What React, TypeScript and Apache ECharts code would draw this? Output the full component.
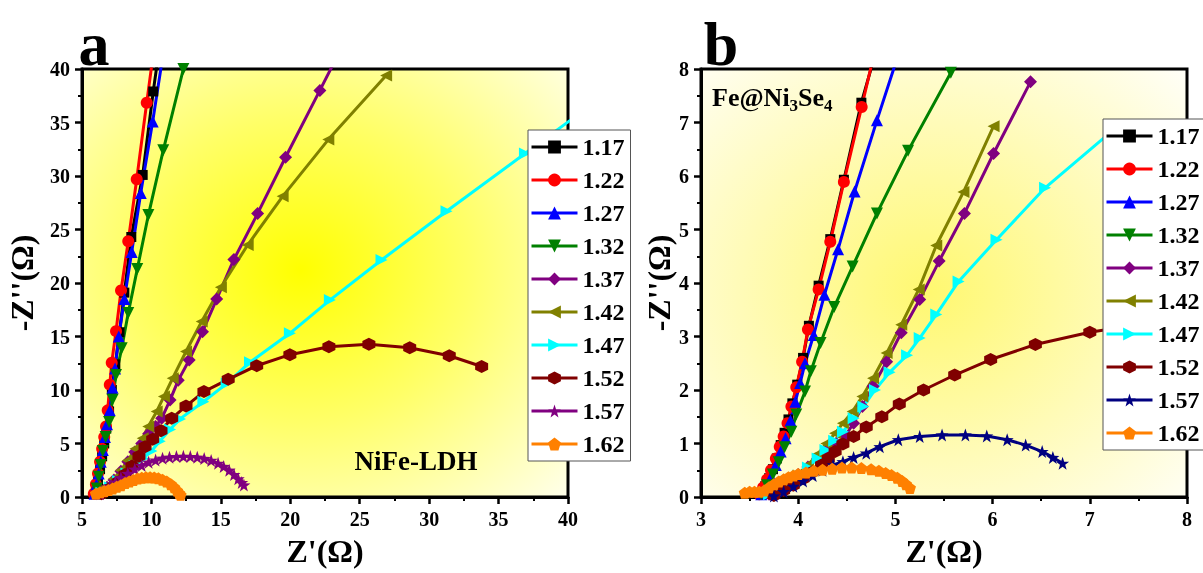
import React, { useEffect, useRef } from "react";
import * as echarts from "echarts";

const FONT = '"Liberation Serif", "Times New Roman", serif';

const names = ["1.17", "1.22", "1.27", "1.32", "1.37", "1.42", "1.47", "1.52", "1.57", "1.62"];
const colorsA = ["#000000", "#ff0000", "#0000ff", "#008000", "#800080", "#808000", "#00ffff", "#800000", "#800080", "#ff8000"];
const colorsB = ["#000000", "#ff0000", "#0000ff", "#008000", "#800080", "#808000", "#00ffff", "#800000", "#000080", "#ff8000"];

const SYM_HEX = "path://M0,-10L8.66,-5L8.66,5L0,10L-8.66,5L-8.66,-5Z";
const SYM_STAR = "path://M0,-10L2.35,-3.24L9.51,-3.09L3.8,1.24L5.88,8.09L0,4L-5.88,8.09L-3.8,1.24L-9.51,-3.09L-2.35,-3.24Z";
const SYM_PENT = "path://M0,-10L9.51,-3.09L5.88,8.09L-5.88,8.09L-9.51,-3.09Z";
const symbols = ["rect", "circle", "triangle", "triangle", "diamond", "triangle", "triangle", SYM_HEX, SYM_STAR, SYM_PENT];
const rotations = [0, 0, 0, 180, 0, 90, -90, 0, 0, 0];
const sizes = [10, 12, 12, 12, 13, 12, 12, 13, 13, 12];

// Panel a: NiFe-LDH
const a117 = [[6.0,0.5],[6.15,1.5],[6.3,2.6],[6.45,3.8],[6.6,5.0],[6.75,6.4],[6.95,8.0],[7.15,10.0],[7.4,12.4],[7.7,15.4],[8.05,19.1],[8.55,24.3],[9.37,30.1],[10.13,37.9],[10.9,45]];
const a122 = [[5.85,0.3],[6.0,1.2],[6.15,2.2],[6.3,3.3],[6.45,4.5],[6.6,5.6],[6.73,6.6],[6.85,8.1],[7.0,10.5],[7.14,12.55],[7.45,15.5],[7.81,19.3],[8.33,23.9],[8.94,29.7],[9.66,36.85],[10.4,44]];
const a127 = [[5.9,0.3],[6.05,1.2],[6.2,2.2],[6.35,3.3],[6.5,4.4],[6.65,5.6],[6.8,6.8],[7.0,8.1],[7.2,10.2],[7.38,12.0],[7.65,15.0],[8.05,18.5],[8.58,22.9],[9.23,28.4],[10.09,35.1],[10.7,40.2]];
const a132 = [[6.06,0.8],[6.2,1.9],[6.35,3.0],[6.5,4.3],[6.7,5.6],[6.95,7.0],[7.2,9.1],[7.45,11.4],[7.86,13.9],[8.33,17.2],[8.98,21.3],[9.78,26.35],[10.85,32.4],[12.3,40]];
const a137 = [[6.3,0.4],[6.8,0.9],[7.3,1.6],[7.8,2.4],[8.3,3.3],[8.8,4.2],[9.3,5.0],[9.8,5.9],[10.3,6.6],[10.74,7.35],[11.34,9.06],[11.93,10.9],[12.72,12.8],[13.68,15.45],[14.7,18.5],[15.94,22.2],[17.65,26.5],[19.66,31.75],[22.13,38.0],[23.5,41.5]];
const a142 = [[6.3,0.4],[6.8,1.0],[7.3,1.7],[7.8,2.5],[8.3,3.4],[8.85,4.5],[9.37,5.5],[9.77,6.6],[10.38,8.0],[10.9,9.4],[11.53,11.1],[12.49,13.6],[13.62,16.4],[15.0,19.6],[16.93,23.55],[19.45,28.1],[22.74,33.4],[26.9,39.4]];
const a147 = [[6.4,0.4],[7.0,0.9],[7.6,1.5],[8.2,2.2],[8.8,2.9],[9.4,3.6],[10.0,4.3],[10.6,5.2],[11.34,6.3],[12.06,7.3],[13.74,8.9],[15.42,10.6],[17.1,12.6],[19.97,15.3],[22.85,18.4],[26.57,22.15],[31.25,26.7],[36.9,32.1],[41,36]];
const a152 = [[6.4,0.3],[7.0,0.8],[7.6,1.4],[8.1,2.1],[8.6,2.9],[9.1,3.8],[9.54,4.7],[10.09,5.4],[10.69,6.2],[11.46,7.35],[12.49,8.5],[13.78,9.85],[15.53,11.0],[17.58,12.27],[19.97,13.3],[22.78,14.05],[25.66,14.27],[28.6,13.95],[31.45,13.2],[33.78,12.2]];
const a157 = [[6.3,0.3],[6.6,0.6],[7.0,1.0],[7.4,1.4],[7.8,1.8],[8.3,2.2],[8.8,2.6],[9.3,2.95],[9.8,3.25],[10.3,3.45],[10.8,3.62],[11.3,3.72],[11.8,3.78],[12.3,3.8],[12.8,3.78],[13.3,3.72],[13.8,3.6],[14.3,3.42],[14.8,3.15],[15.2,2.85],[15.6,2.5],[15.95,2.1],[16.25,1.7],[16.5,1.35],[16.66,1.12]];
const a162 = [[6.0,0.3],[6.3,0.45],[6.6,0.55],[6.9,0.65],[7.2,0.8],[7.5,0.95],[7.8,1.1],[8.1,1.3],[8.4,1.45],[8.7,1.6],[9.0,1.72],[9.3,1.8],[9.6,1.85],[9.9,1.85],[10.2,1.82],[10.5,1.75],[10.8,1.62],[11.1,1.45],[11.4,1.2],[11.65,0.9],[11.85,0.6],[12.0,0.35],[12.1,0.2]];

// Panel b: Fe@Ni3Se4
const b117 = [[3.62,0.08],[3.66,0.2],[3.7,0.35],[3.74,0.52],[3.78,0.72],[3.82,0.97],[3.86,1.2],[3.9,1.45],[3.94,1.75],[3.99,2.1],[4.05,2.6],[4.11,3.2],[4.21,3.95],[4.33,4.82],[4.47,5.93],[4.65,7.37],[4.78,8.2]];
const b122 = [[3.6,0.05],[3.64,0.18],[3.68,0.33],[3.72,0.5],[3.77,0.72],[3.81,0.94],[3.85,1.13],[3.89,1.38],[3.93,1.69],[3.98,2.05],[4.04,2.53],[4.1,3.13],[4.21,3.88],[4.33,4.77],[4.47,5.89],[4.653,7.29],[4.77,8.2]];
const b127 = [[3.62,0.05],[3.67,0.2],[3.72,0.38],[3.77,0.6],[3.82,0.85],[3.87,1.1],[3.92,1.43],[3.97,1.78],[4.02,2.13],[4.07,2.5],[4.16,3.03],[4.27,3.78],[4.41,4.63],[4.58,5.71],[4.81,7.04],[5.0,8.1]];
const b132 = [[3.62,0.05],[3.68,0.22],[3.74,0.42],[3.8,0.65],[3.86,0.93],[3.93,1.22],[3.98,1.54],[4.07,1.97],[4.13,2.35],[4.23,2.88],[4.37,3.55],[4.56,4.31],[4.81,5.3],[5.13,6.47],[5.57,7.93]];
const b137 = [[3.7,0.05],[3.8,0.15],[3.9,0.28],[4.0,0.42],[4.1,0.56],[4.2,0.72],[4.3,0.88],[4.39,1.0],[4.48,1.13],[4.57,1.38],[4.66,1.69],[4.77,2.07],[4.91,2.53],[5.06,3.07],[5.25,3.69],[5.45,4.41],[5.71,5.3],[6.01,6.42],[6.39,7.76]];
const b142 = [[3.7,0.05],[3.8,0.15],[3.9,0.28],[4.0,0.43],[4.1,0.6],[4.2,0.8],[4.29,1.0],[4.38,1.19],[4.46,1.38],[4.56,1.6],[4.66,1.88],[4.77,2.22],[4.91,2.69],[5.06,3.22],[5.24,3.88],[5.42,4.7],[5.7,5.7],[6.01,6.93]];
const b147 = [[3.7,0.05],[3.8,0.15],[3.9,0.27],[4.0,0.4],[4.1,0.55],[4.2,0.72],[4.28,0.88],[4.37,1.05],[4.46,1.22],[4.57,1.47],[4.67,1.69],[4.79,2.0],[4.94,2.33],[5.12,2.65],[5.25,2.97],[5.42,3.41],[5.65,4.03],[6.04,4.81],[6.54,5.78],[7.3,6.95]];
const b152 = [[3.75,0.03],[3.85,0.12],[3.95,0.22],[4.05,0.34],[4.15,0.47],[4.24,0.6],[4.31,0.72],[4.38,0.85],[4.46,0.99],[4.57,1.13],[4.7,1.31],[4.86,1.5],[5.04,1.74],[5.29,2.0],[5.61,2.28],[5.98,2.57],[6.44,2.85],[7.0,3.08],[7.6,3.25]];
const b157 = [[3.75,0.02],[3.85,0.1],[3.95,0.2],[4.05,0.3],[4.15,0.4],[4.25,0.5],[4.36,0.6],[4.46,0.66],[4.57,0.74],[4.7,0.82],[4.84,0.94],[5.03,1.07],[5.25,1.13],[5.48,1.16],[5.72,1.16],[5.94,1.14],[6.15,1.07],[6.34,0.97],[6.51,0.85],[6.62,0.74],[6.72,0.63]];
const b162 = [[3.45,0.08],[3.5,0.1],[3.55,0.1],[3.6,0.1],[3.65,0.12],[3.7,0.18],[3.75,0.24],[3.8,0.29],[3.85,0.33],[3.9,0.37],[3.95,0.4],[4.0,0.43],[4.08,0.46],[4.16,0.49],[4.25,0.51],[4.35,0.53],[4.45,0.55],[4.55,0.55],[4.65,0.54],[4.75,0.52],[4.83,0.49],[4.9,0.45],[4.96,0.41],[5.02,0.36],[5.07,0.3],[5.11,0.24],[5.15,0.17]];

const dataA = [a117, a122, a127, a132, a137, a142, a147, a152, a157, a162];
const dataB = [b117, b122, b127, b132, b137, b142, b147, b152, b157, b162];

const xTicksA = { min: 5, max: 40, interval: 5 };
const yTicksA = { min: 0, max: 40, interval: 5 };
const xTicksB = { min: 3, max: 8, interval: 1 };
const yTicksB = { min: 0, max: 8, interval: 1 };

function makeSeries(data: number[][][], colors: string[], gi: number) {
  return data.map((d, i) => ({
    type: "line",
    name: names[i],
    data: d,
    xAxisIndex: gi,
    yAxisIndex: gi,
    symbol: symbols[i],
    symbolSize: sizes[i],
    symbolRotate: rotations[i],
    showAllSymbol: true,
    clip: true,
    lineStyle: { color: colors[i], width: 3 },
    itemStyle: { color: colors[i] },
    emphasis: { disabled: true },
  }));
}

function axisCommon() {
  return {
    axisLine: { show: true, onZero: false, lineStyle: { color: "#000", width: 3 } },
    axisTick: { show: true, inside: false, length: 7, lineStyle: { color: "#000", width: 2.5 } },
    minorTick: { show: true, splitNumber: 2, length: 4, lineStyle: { color: "#000", width: 2 } },
    splitLine: { show: false },
    axisLabel: { color: "#000", fontFamily: FONT, fontWeight: "bold", fontSize: 20, margin: 12 },
    nameTextStyle: { color: "#000", fontFamily: FONT, fontWeight: "bold", fontSize: 32 },
  };
}

function legendFor(colors: string[], left: number, top: number) {
  return {
    orient: "vertical",
    left,
    top,
    selectedMode: false,
    itemWidth: 46,
    itemHeight: 16,
    itemGap: 9,
    padding: [5, 6, 5, 2],
    backgroundColor: "#ffffff",
    borderColor: "#555",
    borderWidth: 1,
    textStyle: { color: "#000", fontFamily: FONT, fontWeight: "bold", fontSize: 24, lineHeight: 24 },
    data: names.map((n, i) => ({
      name: n,
      itemStyle: { color: colors[i] },
      lineStyle: { color: colors[i], width: 3 },
    })),
  };
}

export default function App() {
  const ref = useRef<HTMLDivElement>(null);
  useEffect(() => {
    if (!ref.current) return;
    const chart = echarts.init(ref.current, undefined, { renderer: "svg" });
    const bgA = new echarts.graphic.RadialGradient(0.45, 0.47, 0.78, [
      { offset: 0, color: "#ffff00" },
      { offset: 0.45, color: "#ffff66" },
      { offset: 1, color: "#fffff0" },
    ]);
    const bgB = new echarts.graphic.RadialGradient(0.47, 0.52, 0.78, [
      { offset: 0, color: "#fff870" },
      { offset: 0.5, color: "#fffbb8" },
      { offset: 1, color: "#ffffff" },
    ]);
    chart.setOption({
      animation: false,
      grid: [
        { left: 82, top: 69, width: 486, height: 428, show: true, backgroundColor: bgA, borderColor: "#000", borderWidth: 3, containLabel: false },
        { left: 701, top: 69, width: 486, height: 428, show: true, backgroundColor: bgB, borderColor: "#000", borderWidth: 3, containLabel: false },
      ],
      xAxis: [
        { type: "value", gridIndex: 0, ...xTicksA, name: "Z'(Ω)", nameLocation: "middle", nameGap: 38, ...axisCommon() },
        { type: "value", gridIndex: 1, ...xTicksB, name: "Z'(Ω)", nameLocation: "middle", nameGap: 38, ...axisCommon() },
      ],
      yAxis: [
        { type: "value", gridIndex: 0, ...yTicksA, name: "-Z''(Ω)", nameLocation: "middle", nameGap: 44, ...axisCommon() },
        { type: "value", gridIndex: 1, ...yTicksB, name: "-Z''(Ω)", nameLocation: "middle", nameGap: 24, ...axisCommon() },
      ],
      legend: [legendFor(colorsA, 528, 130), legendFor(colorsB, 1103, 119)],
      series: [...makeSeries(dataA, colorsA, 0), ...makeSeries(dataB, colorsB, 1)],
      graphic: [
        { type: "text", x: 94, y: 44, z: 100, style: { text: "a", font: `bold 62px ${FONT}`, fill: "#000", align: "center", verticalAlign: "middle" } },
        { type: "text", x: 721, y: 44, z: 100, style: { text: "b", font: `bold 62px ${FONT}`, fill: "#000", align: "center", verticalAlign: "middle" } },
        { type: "text", x: 416, y: 461, z: 100, style: { text: "NiFe-LDH", font: `bold 27px ${FONT}`, fill: "#000", align: "center", verticalAlign: "middle" } },
        {
          type: "text", x: 712, y: 80, z: 100,
          style: {
            text: "{m|Fe@Ni}{s|3}{m|Se}{s|4}",
            fill: "#000",
            align: "left",
            verticalAlign: "top",
            rich: {
              m: { fontFamily: FONT, fontWeight: "bold", fontSize: 26, lineHeight: 34, fill: "#000" },
              s: { fontFamily: FONT, fontWeight: "bold", fontSize: 17, lineHeight: 17, verticalAlign: "bottom", fill: "#000" },
            },
          },
        },
      ],
    });
    return () => chart.dispose();
  }, []);
  return <div ref={ref} style={{ position: "fixed", left: 0, top: 0, width: 1203, height: 573 }} />;
}
